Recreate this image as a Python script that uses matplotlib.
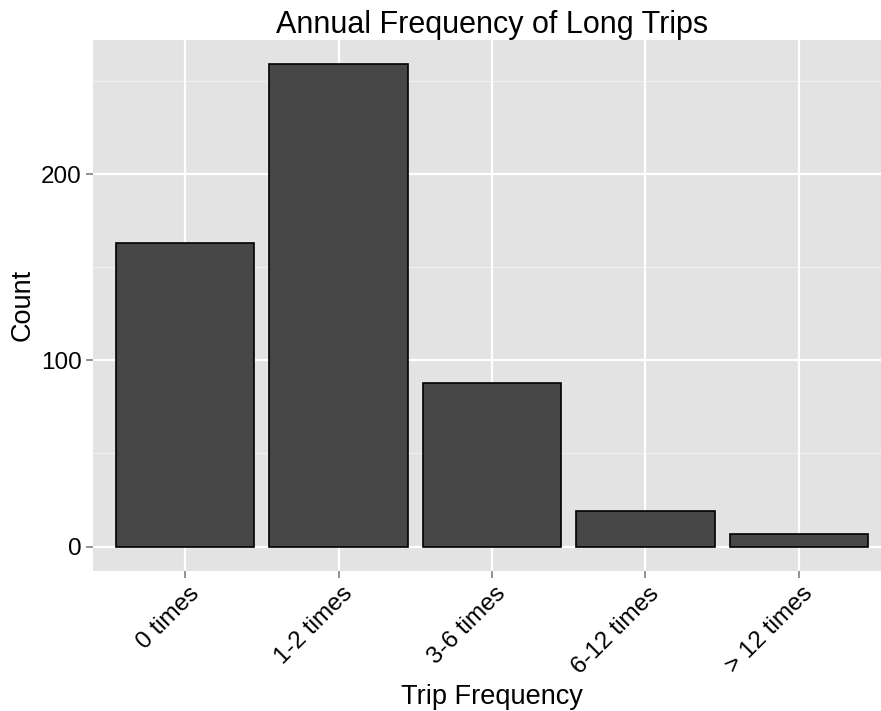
import matplotlib
matplotlib.use("Agg")
import matplotlib.pyplot as plt
import matplotlib.transforms as mtransforms

# trip frequency categories and counts
categories = ["0 times", "1-2 times", "3-6 times", "6-12 times", "> 12 times"]
counts = [163, 259, 88, 19, 7]
y_ticks = [0, 100, 200]
y_minor = [50, 150, 250]

plt.rcParams['font.family'] = ['Liberation Sans', 'DejaVu Sans']

fig = plt.figure(figsize=(8.81, 7.11), dpi=100)
# panel runs slightly past the right edge of the image, as in the original
ax = fig.add_axes([93 / 881, 1 - 570.7 / 711, 798 / 881, (570.7 - 40) / 711])

ax.set_facecolor('#e3e3e3')
pos = list(range(1, len(categories) + 1))

# grid lines (ggplot-like)
for y in y_minor:
    ax.axhline(y, color='#f0f0f0', lw=0.9, zorder=0)
for y in y_ticks:
    ax.axhline(y, color='white', lw=1.6, zorder=0)
for x in pos:
    ax.axvline(x, color='white', lw=1.6, zorder=0)

ax.bar(pos, counts, width=0.9, color='#474747', edgecolor='black', linewidth=1.2, zorder=2)

top = max(counts)
ax.set_xlim(0.4, len(categories) + 0.6)
ax.set_ylim(-0.05 * top, 1.05 * top)

ax.set_yticks(y_ticks)
ax.set_xticks(pos)
ax.set_xticklabels(categories, rotation=45, ha='right', rotation_mode='anchor')
ax.tick_params(axis='both', colors='#7f7f7f', length=5, width=1.2, labelsize=17.5,
               labelcolor='black', pad=3)
shift = mtransforms.ScaledTranslation(3 / 100, -1 / 100, fig.dpi_scale_trans)
for lab in ax.get_xticklabels():
    lab.set_transform(lab.get_transform() + shift)
for s in ax.spines.values():
    s.set_visible(False)

ax.set_title("Annual Frequency of Long Trips", fontsize=22, pad=4)
ax.set_xlabel("Trip Frequency", fontsize=19.5)
ax.set_ylabel("Count", fontsize=19.5)

fig.savefig("out.png", dpi=100)
